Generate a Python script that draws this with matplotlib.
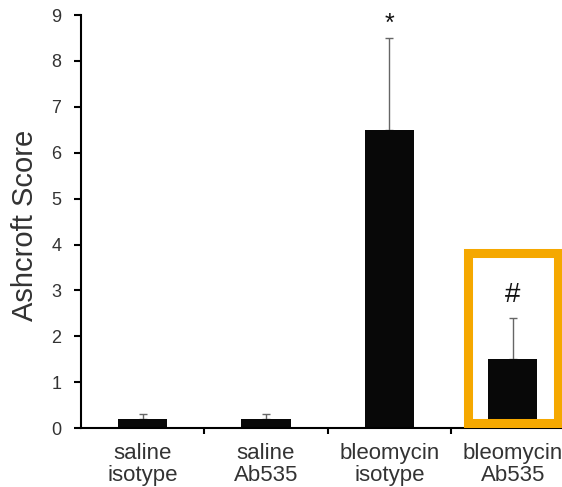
import matplotlib.pyplot as plt
from matplotlib.patches import Rectangle

plt.rcParams['font.family'] = ['Liberation Sans', 'DejaVu Sans']

groups = ['saline\nisotype', 'saline\nAb535', 'bleomycin\nisotype', 'bleomycin\nAb535']
scores = [0.2, 0.2, 6.5, 1.5]
errors = [0.1, 0.1, 2.0, 0.9]
marks = ['', '', '*', '#']
mark_y = [0, 0, 8.8, 2.9]

fig = plt.figure(figsize=(5.62, 4.87), dpi=100)
ax = fig.add_axes([0.144, 0.121, 0.856, 0.848])

x = list(range(len(groups)))
ax.bar(x, scores, width=0.4, color='#080808', zorder=2)
ax.errorbar(x, scores, yerr=[[0] * len(errors), errors], fmt='none',
            ecolor='#666666', elinewidth=1, capsize=3, capthick=1, zorder=1)

for i, m in enumerate(marks):
    if m:
        ax.text(i, mark_y[i], m, ha='center', va='center', fontsize=20 if m == '#' else 18,
                color='#111111')

ax.set_xlim(-0.5, 3.4)
ax.set_ylim(0, 9)
ax.set_yticks(range(10))
ax.tick_params(axis='y', labelsize=13, labelcolor='#333333', length=5, width=1.5,
               direction='out', pad=9)
ax.set_xticks(x)
ax.set_xticklabels(groups, fontsize=16, color='#333333', linespacing=1.05)
ax.tick_params(axis='x', which='major', length=0, pad=11)
ax.set_xticks([0.5, 1.5, 2.5], minor=True)
ax.tick_params(axis='x', which='minor', length=4, width=1.5, direction='out')
ax.set_ylabel('Ashcroft Score', fontsize=21, color='#333333')
ax.yaxis.set_label_coords(-0.087, 0.49)

for s in ['top', 'right']:
    ax.spines[s].set_visible(False)
ax.spines['left'].set_linewidth(1.5)
ax.spines['bottom'].set_linewidth(1.5)

# highlight box around last group
box = Rectangle((2.634, 0.11), 0.732, 3.70, fill=False, edgecolor='#F5A800',
                linewidth=6.5, clip_on=False, zorder=3)
ax.add_patch(box)

fig.savefig('out.png', dpi=100)
